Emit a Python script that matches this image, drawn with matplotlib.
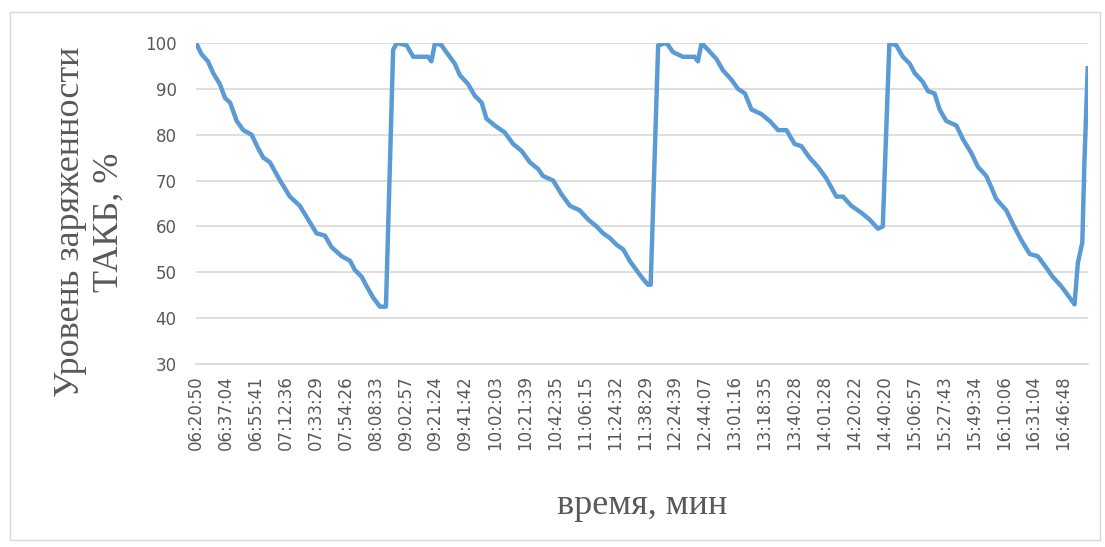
import matplotlib
matplotlib.use("Agg")
from matplotlib import pyplot as plt
from matplotlib.patches import Rectangle

# tick labels of the category axis (one per label position)
time_labels = ["06:20:50", "06:37:04", "06:55:41", "07:12:36", "07:33:29",
               "07:54:26", "08:08:33", "09:02:57", "09:21:24", "09:41:42",
               "10:02:03", "10:21:39", "10:42:35", "11:06:15", "11:24:32",
               "11:38:29", "12:24:39", "12:44:07", "13:01:16", "13:18:35",
               "13:40:28", "14:01:28", "14:20:22", "14:40:20", "15:06:57",
               "15:27:43", "15:49:34", "16:10:06", "16:31:04", "16:46:48"]

# position along the category axis (in label steps) and state of charge, %
pos = [0.00, 0.19, 0.40, 0.57, 0.80, 0.97, 1.14, 1.36, 1.58, 1.86,
       2.08, 2.25, 2.47, 2.81, 3.14, 3.47, 3.75, 4.03, 4.31, 4.53,
       4.87, 5.15, 5.31, 5.54, 5.70, 5.92, 6.15, 6.35, 6.59, 6.71,
       7.04, 7.26, 7.76, 7.87, 7.99, 8.21, 8.37, 8.65, 8.82, 9.10,
       9.32, 9.55, 9.71, 9.99, 10.32, 10.60, 10.88, 11.16, 11.44, 11.60,
       11.94, 12.22, 12.50, 12.83, 13.11, 13.39, 13.61, 13.83, 14.06, 14.28,
       14.50, 14.72, 14.95, 15.11, 15.20, 15.45, 15.73, 15.95, 16.28, 16.67,
       16.78, 16.90, 17.12, 17.40, 17.62, 17.90, 18.12, 18.35, 18.57, 18.90,
       19.18, 19.46, 19.74, 20.01, 20.24, 20.51, 20.79, 21.07, 21.41, 21.63,
       21.91, 22.24, 22.52, 22.80, 22.96, 23.18, 23.41, 23.63, 23.86, 24.02,
       24.30, 24.47, 24.69, 24.86, 25.08, 25.42, 25.64, 25.92, 26.14, 26.42,
       26.59, 26.75, 27.09, 27.31, 27.59, 27.87, 28.14, 28.37, 28.64, 28.92,
       29.15, 29.37, 29.48, 29.63, 29.70, 29.81]
soc = [100, 97.5, 96, 93.5, 91, 88, 87, 83, 81, 80,
       77, 75, 74, 70, 66.5, 64.5, 61.5, 58.5, 58, 55.5,
       53.5, 52.5, 50.5, 49, 47, 44.5, 42.5, 42.5, 98.5, 100,
       99.5, 97, 97, 96, 100, 99.5, 98, 95.5, 93, 91,
       88.5, 87, 83.5, 82, 80.5, 78, 76.5, 74, 72.5, 71,
       70, 67, 64.5, 63.5, 61.5, 60, 58.5, 57.5, 56, 55,
       52.5, 50.5, 48.5, 47.3, 47.3, 99.5, 100, 98, 97, 97,
       96, 100, 98.5, 96.5, 94, 92, 90, 89, 85.5, 84.5,
       83, 81, 81, 78, 77.5, 75, 73, 70.5, 66.5, 66.5,
       64.5, 63, 61.5, 59.5, 60, 100, 99.5, 97, 95.5, 93.5,
       91.5, 89.5, 89, 85.5, 83, 82, 79, 76, 73, 71,
       68.5, 66, 63.5, 60.5, 57, 54, 53.5, 51.5, 49, 47,
       45, 43, 52, 56.5, 74, 94.5]

fig = plt.figure(figsize=(11.05, 5.47), dpi=100)
ax = fig.add_axes([196 / 1105, 1 - 364 / 547, 892 / 1105, 321 / 547])

ax.plot(pos, soc, color="#5B9BD5", linewidth=3.2, solid_joinstyle="round")

ax.set_xlim(0, 29.82)
ax.set_ylim(30, 100)
ax.set_yticks(range(30, 101, 10))
ax.set_xticks(range(len(time_labels)))
ax.set_xticklabels(time_labels, rotation=90)
ax.tick_params(axis="both", length=0, labelcolor="#595959", labelsize=12)
ax.tick_params(axis="y", pad=14)
ax.tick_params(axis="x", pad=8)
ax.grid(axis="y", color="#d9d9d9", linewidth=1.2)
ax.set_axisbelow(True)
for side in ["top", "right", "left"]:
    ax.spines[side].set_visible(False)
ax.spines["bottom"].set_color("#d9d9d9")
ax.spines["bottom"].set_linewidth(1.2)

fig.text(90 / 1105, 1 - 222 / 547, "Уровень заряженности\nТАКБ, %",
         rotation=90, ha="center", va="center", ma="center",
         family="Liberation Serif", fontsize=26, color="#595959",
         linespacing=1.2)
fig.text(642 / 1105, 1 - 506 / 547, "время, мин", ha="center", va="center",
         family="Liberation Serif", fontsize=26, color="#595959")

# light frame around the chart area
fig.patches.append(Rectangle((10 / 1105, 7 / 547), 1090 / 1105, 528 / 547,
                             transform=fig.transFigure, fill=False,
                             edgecolor="#d9d9d9", linewidth=1))

fig.savefig("out.png", dpi=100)
